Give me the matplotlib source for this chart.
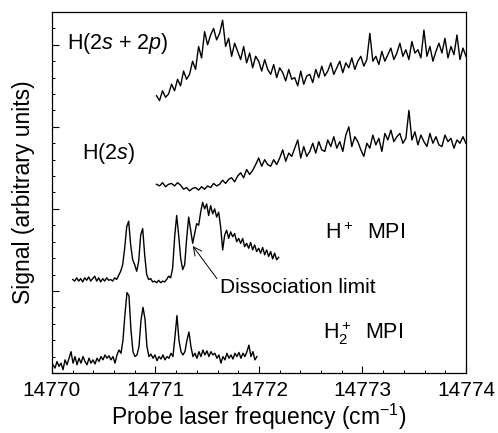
import numpy as np
import matplotlib
matplotlib.use("Agg")
import matplotlib.pyplot as plt

plt.rcParams['font.family'] = ['Liberation Sans', 'DejaVu Sans']
plt.rcParams['mathtext.fontset'] = 'custom'
plt.rcParams['mathtext.rm'] = 'Liberation Sans'
plt.rcParams['mathtext.it'] = 'Liberation Sans:italic'

# scan ranges (cm^-1)
x_2s2p = (14771.01, 14774.0)
x_2s = (14771.01, 14774.0)
x_hplus = (14770.20, 14772.19)
x_h2plus = (14770.01, 14771.98)

# H(2s + 2p) signal
y_2s2p = [16.9, 16.6, 17.2, 16.8, 17.0, 17.6, 17.2, 17.9, 17.5, 18.4, 17.9, 18.2,
          19.0, 18.5, 19.9, 19.2, 20.8, 20.0, 20.6, 21.0, 20.3, 20.7, 21.5, 19.9,
          20.4, 19.3, 20.1, 19.6, 19.1, 19.9, 18.9, 19.5, 18.6, 19.3, 19.0, 18.4,
          19.1, 18.5, 18.2, 18.8, 18.0, 18.6, 18.3, 17.8, 18.5, 17.9, 18.0, 17.5,
          18.4, 17.6, 18.1, 18.2, 17.7, 18.5, 18.0, 18.7, 18.1, 18.4, 18.9, 18.2,
          18.6, 19.0, 18.3, 18.9, 18.6, 19.2, 18.5, 19.0, 19.3, 18.7, 19.1, 20.7,
          19.0, 19.3, 18.8, 19.6, 19.0, 19.4, 19.8, 19.1, 19.5, 20.1, 19.3, 19.7,
          19.1, 20.2, 19.5, 19.7, 19.2, 20.9, 19.3, 19.9, 19.0, 19.6, 20.1, 19.5,
          20.4, 19.2, 19.9, 19.4, 20.6, 19.1, 19.8, 19.3]

# H(2s) signal
y_2s = [11.5, 11.4, 11.6, 11.35, 11.5, 11.55, 11.4, 11.6, 11.45, 11.2, 11.3, 11.1,
        11.25, 11.3, 11.15, 11.35, 11.2, 11.4, 11.3, 11.55, 11.4, 11.5, 11.75, 11.55,
        11.8, 11.9, 11.65, 12.0, 12.2, 11.9, 12.4, 12.1, 12.35, 12.7, 13.1, 12.6,
        13.0, 12.7, 12.6, 13.0, 12.7, 13.1, 13.6, 12.9, 13.4, 13.2, 13.7, 14.2,
        13.1, 13.8, 13.2, 13.5, 14.0, 13.4, 14.1, 13.6, 13.5, 14.2, 13.8, 14.4,
        13.7, 14.1, 13.5, 14.5, 15.0, 13.8, 14.4, 14.1, 13.6, 13.2, 14.0, 13.7,
        14.5, 13.9, 14.3, 13.5, 14.6, 14.2, 14.8, 14.1, 14.4, 14.6, 14.0, 14.3,
        16.0, 14.2, 14.7, 13.9, 14.5, 14.1, 13.8, 14.6, 14.0, 14.4, 13.9, 13.8,
        14.5, 14.1, 14.3, 13.7, 14.2, 14.0, 14.4, 14.0]

# H+ MPI signal
y_hplus = [5.7, 5.6, 5.8, 5.6, 5.75, 5.55, 5.8, 5.65, 5.85, 5.6, 5.75, 5.9,
           5.6, 5.8, 5.55, 5.75, 5.6, 5.8, 5.65, 5.7, 5.6, 5.8, 5.7, 5.95,
           6.2, 6.6, 7.6, 8.9, 9.25, 7.8, 6.9, 6.6, 6.2, 6.8, 8.4, 8.8,
           7.2, 6.0, 5.7, 5.75, 5.55, 5.6, 5.5, 5.65, 5.5, 5.6, 5.55, 5.7,
           5.9, 5.8, 6.4, 8.3, 9.6, 8.4, 7.0, 6.3, 6.6, 8.2, 9.5, 8.7,
           7.9, 8.5, 9.1, 9.0, 9.8, 10.4, 10.0, 10.3, 9.6, 10.2, 9.7, 10.0,
           9.5, 9.8, 8.9, 7.5, 8.4, 8.7, 8.2, 8.6, 8.3, 8.5, 8.0, 8.2,
           7.9, 8.2, 7.7, 7.9, 7.6, 7.95, 7.5, 7.8, 7.4, 7.6, 7.3, 7.65,
           7.2, 7.5, 7.1, 7.4, 6.95, 7.3, 6.9, 7.05]

# H2+ MPI signal
y_h2plus = [0.5, 0.3, 0.7, 0.4, 0.6, 0.2, 0.8, 0.5, 0.9, 1.3, 0.6, 1.0,
            0.5, 0.9, 0.6, 1.0, 0.7, 0.5, 0.9, 0.6, 0.8, 0.55, 0.9, 0.7,
            1.0, 0.8, 1.1, 0.9, 1.05, 0.8, 1.0, 0.6, 1.1, 1.4, 1.2, 2.0,
            3.6, 4.9, 4.7, 2.6, 1.3, 1.0, 1.1, 1.6, 3.2, 4.0, 3.3, 1.6,
            1.0, 1.15, 0.9, 1.1, 0.75, 1.0, 0.85, 1.1, 0.8, 1.0, 0.9, 1.2,
            1.0, 2.2, 3.5, 2.0, 1.3, 1.1, 1.3, 2.0, 2.5, 1.6, 1.0, 1.2,
            0.9, 1.3, 1.0, 1.4, 1.1, 1.35, 1.0, 1.3, 1.1, 1.2, 0.9, 1.1,
            0.6, 1.0, 0.8, 1.2, 0.9, 1.1, 0.85, 1.2, 1.0, 1.25, 0.9, 1.2,
            1.0, 1.3, 1.7, 1.0, 1.3, 0.8, 1.0]

traces = [(x_2s2p, y_2s2p), (x_2s, y_2s), (x_hplus, y_hplus), (x_h2plus, y_h2plus)]

fig = plt.figure(figsize=(4.98, 4.33), dpi=100)
ax = fig.add_axes([0.1044, 0.1386, 0.8313, 0.8337])

for (lo, hi), ys in traces:
    xs = np.linspace(lo, hi, len(ys))
    ax.plot(xs, ys, color='black', lw=1.0)

ax.set_xlim(14770, 14774)
ax.set_ylim(0, 22)
ax.set_xticks([14770, 14771, 14772, 14773, 14774])
ax.set_xticks(np.arange(14770, 14774.01, 0.2), minor=True)
ax.set_xticklabels(['14770', '14771', '14772', '14773', '14774'])
ax.set_yticks([0, 5, 10, 15, 20])
ax.set_yticks(np.arange(0, 22.01, 1), minor=True)
ax.set_yticklabels([])
ax.tick_params(axis='both', which='both', direction='in', top=False, right=False)
ax.tick_params(axis='both', which='major', length=5, width=0.8)
ax.tick_params(axis='both', which='minor', length=2.5, width=0.7)
ax.tick_params(axis='x', labelsize=15, pad=6)
for s in ax.spines.values():
    s.set_linewidth(0.9)

ax.set_xlabel('Probe laser frequency (cm$^{-1}$)', fontsize=16.5, labelpad=1)
ax.set_ylabel('Signal (arbitrary units)', fontsize=16.5, labelpad=9)

ax.text(14770.145, 20.05, r'H(2$\mathit{s}$ + 2$\mathit{p}$)', fontsize=15.5, va='center')
ax.text(14770.29, 13.4, r'H(2$\mathit{s}$)', fontsize=15.5, va='center')
ax.text(14772.64, 8.53, r'H$^+$  MPI', fontsize=15.5, va='center')
ax.text(14772.62, 2.44, r'H$_2^+$  MPI', fontsize=15.5, va='center')
ax.annotate('Dissociation limit', xy=(14771.36, 7.74), xytext=(14771.62, 5.18),
            fontsize=15, va='center', ha='left',
            arrowprops=dict(arrowstyle='->', lw=0.7, color='black',
                            shrinkA=0, shrinkB=0, relpos=(0, 0.8)))

fig.savefig('out.png', dpi=100)
